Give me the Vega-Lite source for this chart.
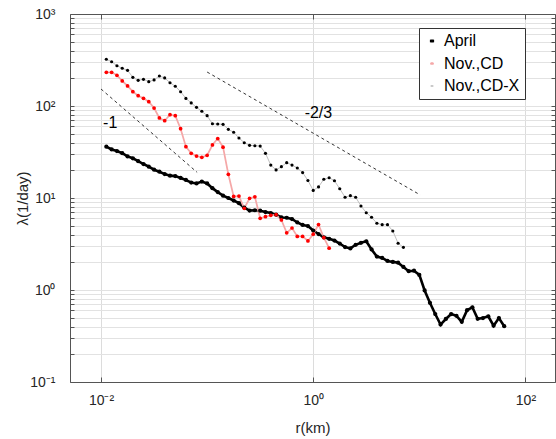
{
  "$schema": "https://vega.github.io/schema/vega-lite/v6.json",
  "width": 485,
  "height": 368,
  "autosize": {"type": "none"},
  "padding": {"left": 70, "top": 14, "right": 1, "bottom": 57},
  "background": "#ffffff",
  "config": {
    "view": {"stroke": null},
    "font": "Liberation Sans",
    "axis": {
      "labelFont": "Liberation Sans",
      "titleFont": "Liberation Sans",
      "labelColor": "#262626",
      "titleColor": "#262626",
      "domainColor": "#555555",
      "tickColor": "#555555",
      "gridColor": "#e2e2e2",
      "labelOverlap": false,
      "labelFlush": false,
      "titleFontWeight": "normal"
    }
  },
  "datasets": {
    "pts": [
      {"s":"April","r":0.01122,"l":36.1},{"s":"April","r":0.012589,"l":33.7},{"s":"April","r":0.014125,"l":32.4},{"s":"April","r":0.015849,"l":30.7},
      {"s":"April","r":0.017783,"l":28.3},{"s":"April","r":0.019953,"l":27.0},{"s":"April","r":0.022387,"l":25.1},{"s":"April","r":0.025119,"l":23.4},
      {"s":"April","r":0.028184,"l":21.9},{"s":"April","r":0.031623,"l":20.3},{"s":"April","r":0.035481,"l":19.3},{"s":"April","r":0.039811,"l":18.2},
      {"s":"April","r":0.044668,"l":17.5},{"s":"April","r":0.050119,"l":17.3},{"s":"April","r":0.056234,"l":16.5},{"s":"April","r":0.063096,"l":15.7},
      {"s":"April","r":0.070795,"l":14.7},{"s":"April","r":0.079433,"l":14.4},{"s":"April","r":0.089125,"l":15.1},{"s":"April","r":0.1,"l":14.4},
      {"s":"April","r":0.1122,"l":12.8},{"s":"April","r":0.12589,"l":11.6},{"s":"April","r":0.14125,"l":10.6},{"s":"April","r":0.15849,"l":10.0},
      {"s":"April","r":0.17783,"l":9.39},{"s":"April","r":0.19953,"l":8.78},{"s":"April","r":0.22387,"l":7.87},{"s":"April","r":0.25119,"l":7.31},
      {"s":"April","r":0.28184,"l":7.36},{"s":"April","r":0.31623,"l":7.28},{"s":"April","r":0.35481,"l":7.04},{"s":"April","r":0.39811,"l":6.87},
      {"s":"April","r":0.44668,"l":6.58},{"s":"April","r":0.50119,"l":6.14},{"s":"April","r":0.56234,"l":6.10},{"s":"April","r":0.63096,"l":5.91},
      {"s":"April","r":0.70795,"l":5.42},{"s":"April","r":0.79433,"l":5.09},{"s":"April","r":0.89125,"l":4.96},{"s":"April","r":1.0,"l":4.43},
      {"s":"April","r":1.122,"l":4.06},{"s":"April","r":1.2589,"l":3.74},{"s":"April","r":1.4125,"l":3.60},{"s":"April","r":1.5849,"l":3.45},
      {"s":"April","r":1.7783,"l":3.20},{"s":"April","r":1.9953,"l":2.93},{"s":"April","r":2.2387,"l":2.83},{"s":"April","r":2.5119,"l":3.10},
      {"s":"April","r":2.8184,"l":3.26},{"s":"April","r":3.1623,"l":3.38},{"s":"April","r":3.5481,"l":2.76},{"s":"April","r":3.9811,"l":2.31},
      {"s":"April","r":4.4668,"l":2.23},{"s":"April","r":5.0119,"l":2.07},{"s":"April","r":5.6234,"l":2.02},{"s":"April","r":6.3096,"l":1.98},
      {"s":"April","r":7.0795,"l":1.78},{"s":"April","r":7.9433,"l":1.60},{"s":"April","r":8.9125,"l":1.62},{"s":"April","r":10,"l":1.46},
      {"s":"April","r":11.22,"l":0.988},{"s":"April","r":12.589,"l":0.726},{"s":"April","r":14.125,"l":0.548},{"s":"April","r":15.849,"l":0.421},
      {"s":"April","r":17.783,"l":0.484},{"s":"April","r":19.953,"l":0.548},{"s":"April","r":22.387,"l":0.524},{"s":"April","r":25.119,"l":0.451},
      {"s":"April","r":28.184,"l":0.603},{"s":"April","r":31.623,"l":0.649},{"s":"April","r":35.481,"l":0.486},{"s":"April","r":39.811,"l":0.496},
      {"s":"April","r":44.668,"l":0.518},{"s":"April","r":50.119,"l":0.409},{"s":"April","r":56.234,"l":0.496},{"s":"April","r":63.096,"l":0.404},

      {"s":"Nov.,CD","r":0.01122,"l":232.5},{"s":"Nov.,CD","r":0.012589,"l":232.5},{"s":"Nov.,CD","r":0.014125,"l":215.7},{"s":"Nov.,CD","r":0.015849,"l":187},
      {"s":"Nov.,CD","r":0.017783,"l":165},{"s":"Nov.,CD","r":0.019953,"l":143},{"s":"Nov.,CD","r":0.022387,"l":129.4},{"s":"Nov.,CD","r":0.025119,"l":121.2},
      {"s":"Nov.,CD","r":0.028184,"l":111.4},{"s":"Nov.,CD","r":0.031623,"l":95.1},{"s":"Nov.,CD","r":0.035481,"l":74.1},{"s":"Nov.,CD","r":0.039811,"l":69.2},
      {"s":"Nov.,CD","r":0.044668,"l":80.4},{"s":"Nov.,CD","r":0.050119,"l":78.4},{"s":"Nov.,CD","r":0.056234,"l":56.7},{"s":"Nov.,CD","r":0.063096,"l":36.1},
      {"s":"Nov.,CD","r":0.070795,"l":30.6},{"s":"Nov.,CD","r":0.079433,"l":28.6},{"s":"Nov.,CD","r":0.089125,"l":27.7},{"s":"Nov.,CD","r":0.1,"l":29.1},
      {"s":"Nov.,CD","r":0.1122,"l":37.7},{"s":"Nov.,CD","r":0.12589,"l":44.3},{"s":"Nov.,CD","r":0.14125,"l":35.7},{"s":"Nov.,CD","r":0.15849,"l":18.1},
      {"s":"Nov.,CD","r":0.17783,"l":10.4},{"s":"Nov.,CD","r":0.19953,"l":10.5},{"s":"Nov.,CD","r":0.22387,"l":7.73},{"s":"Nov.,CD","r":0.25119,"l":9.93},
      {"s":"Nov.,CD","r":0.28184,"l":10.3},{"s":"Nov.,CD","r":0.31623,"l":6.02},{"s":"Nov.,CD","r":0.35481,"l":6.26},{"s":"Nov.,CD","r":0.39811,"l":6.49},
      {"s":"Nov.,CD","r":0.44668,"l":6.58},{"s":"Nov.,CD","r":0.50119,"l":5.77},{"s":"Nov.,CD","r":0.56234,"l":4.18},{"s":"Nov.,CD","r":0.63096,"l":4.72},
      {"s":"Nov.,CD","r":0.70795,"l":3.82},{"s":"Nov.,CD","r":0.79433,"l":3.82},{"s":"Nov.,CD","r":0.89125,"l":3.41},{"s":"Nov.,CD","r":1.0,"l":4.04},
      {"s":"Nov.,CD","r":1.122,"l":5.15},{"s":"Nov.,CD","r":1.2589,"l":3.70},{"s":"Nov.,CD","r":1.4125,"l":2.85},

      {"s":"Nov.,CD-X","r":0.01122,"l":322},{"s":"Nov.,CD-X","r":0.012589,"l":303},{"s":"Nov.,CD-X","r":0.014125,"l":274},{"s":"Nov.,CD-X","r":0.015849,"l":257},
      {"s":"Nov.,CD-X","r":0.017783,"l":244},{"s":"Nov.,CD-X","r":0.019953,"l":205},{"s":"Nov.,CD-X","r":0.022387,"l":190},{"s":"Nov.,CD-X","r":0.025119,"l":195},
      {"s":"Nov.,CD-X","r":0.028184,"l":184},{"s":"Nov.,CD-X","r":0.031623,"l":192},{"s":"Nov.,CD-X","r":0.035481,"l":212},{"s":"Nov.,CD-X","r":0.039811,"l":202},
      {"s":"Nov.,CD-X","r":0.044668,"l":179},{"s":"Nov.,CD-X","r":0.050119,"l":164},{"s":"Nov.,CD-X","r":0.056234,"l":143},{"s":"Nov.,CD-X","r":0.063096,"l":121},
      {"s":"Nov.,CD-X","r":0.070795,"l":108},{"s":"Nov.,CD-X","r":0.079433,"l":96.8},{"s":"Nov.,CD-X","r":0.089125,"l":87.6},{"s":"Nov.,CD-X","r":0.1,"l":78.5},
      {"s":"Nov.,CD-X","r":0.1122,"l":64.1},{"s":"Nov.,CD-X","r":0.12589,"l":63.7},{"s":"Nov.,CD-X","r":0.14125,"l":63.2},{"s":"Nov.,CD-X","r":0.15849,"l":55.8},
      {"s":"Nov.,CD-X","r":0.17783,"l":51.8},{"s":"Nov.,CD-X","r":0.19953,"l":44.9},{"s":"Nov.,CD-X","r":0.22387,"l":39.9},{"s":"Nov.,CD-X","r":0.25119,"l":37.4},
      {"s":"Nov.,CD-X","r":0.28184,"l":37.0},{"s":"Nov.,CD-X","r":0.31623,"l":36.7},{"s":"Nov.,CD-X","r":0.35481,"l":30.6},{"s":"Nov.,CD-X","r":0.39811,"l":22.8},
      {"s":"Nov.,CD-X","r":0.44668,"l":20.2},{"s":"Nov.,CD-X","r":0.50119,"l":21.9},{"s":"Nov.,CD-X","r":0.56234,"l":24.2},{"s":"Nov.,CD-X","r":0.63096,"l":22.8},
      {"s":"Nov.,CD-X","r":0.70795,"l":21.2},{"s":"Nov.,CD-X","r":0.79433,"l":18.9},{"s":"Nov.,CD-X","r":0.89125,"l":15.5},{"s":"Nov.,CD-X","r":1.0,"l":12.1},
      {"s":"Nov.,CD-X","r":1.122,"l":13.2},{"s":"Nov.,CD-X","r":1.2589,"l":16.0},{"s":"Nov.,CD-X","r":1.4125,"l":16.6},{"s":"Nov.,CD-X","r":1.5849,"l":15.4},
      {"s":"Nov.,CD-X","r":1.7783,"l":12.6},{"s":"Nov.,CD-X","r":1.9953,"l":10.2},{"s":"Nov.,CD-X","r":2.2387,"l":10.6},{"s":"Nov.,CD-X","r":2.5119,"l":10.2},
      {"s":"Nov.,CD-X","r":2.8184,"l":8.19},{"s":"Nov.,CD-X","r":3.1623,"l":6.92},{"s":"Nov.,CD-X","r":3.5481,"l":6.17},{"s":"Nov.,CD-X","r":3.9811,"l":5.31},
      {"s":"Nov.,CD-X","r":4.4668,"l":5.13},{"s":"Nov.,CD-X","r":5.0119,"l":5.13},{"s":"Nov.,CD-X","r":5.6234,"l":4.38},{"s":"Nov.,CD-X","r":6.3096,"l":3.22},
      {"s":"Nov.,CD-X","r":7.0795,"l":2.91}
    ],
    "ref": [
      {"g":"a","r":0.01,"l":153},{"g":"a","r":0.0805,"l":19.0},
      {"g":"b","r":0.1,"l":234},{"g":"b","r":10.2,"l":10.8}
    ],
    "notes": [
      {"t":"-1","r":0.01045,"l":65},
      {"t":"-2/3","r":0.83,"l":84}
    ]
  },
  "layer": [
    {
      "data": {"name": "ref"},
      "mark": {"type": "line", "color": "#333333", "strokeWidth": 1, "strokeDash": [3, 3]},
      "encoding": {
        "x": {"field": "r", "type": "quantitative",
          "scale": {"type": "log", "domain": [0.0051, 190], "nice": false},
          "axis": {"orient": "bottom", "values": [0.01, 1, 100],
            "labelExpr": "datum.value == 0.01 ? '10⁻²' : datum.value == 1 ? '10⁰' : '10²'",
            "grid": true, "gridColor": "#dcdcdc", "tickSize": -5, "labelPadding": 16, "labelFontSize": 14,
            "title": "r(km)", "titleFontSize": 15, "titlePadding": 13}},
        "y": {"field": "l", "type": "quantitative",
          "scale": {"type": "log", "domain": [0.1, 1000], "nice": false},
          "axis": {"orient": "left",
            "values": [0.1,0.2,0.3,0.4,0.5,0.6,0.7,0.8,0.9,1,2,3,4,5,6,7,8,9,10,20,30,40,50,60,70,80,90,100,200,300,400,500,600,700,800,900,1000],
            "labelExpr": "datum.value == 0.1 ? '10⁻¹' : datum.value == 1 ? '10⁰' : datum.value == 10 ? '10¹' : datum.value == 100 ? '10²' : datum.value == 1000 ? '10³' : ''",
            "grid": true, "tickSize": -4, "labelPadding": 19, "labelFontSize": 14,
            "title": "λ(1/day)", "titleFontSize": 15, "titlePadding": -1}},
        "detail": {"field": "g"}
      }
    },
    {
      "data": {"name": "pts"},
      "mark": {"type": "line"},
      "encoding": {
        "x": {"field": "r", "type": "quantitative", "axis": null},
        "y": {"field": "l", "type": "quantitative", "axis": null},
        "stroke": {"field": "s", "type": "nominal",
          "scale": {"domain": ["April", "Nov.,CD", "Nov.,CD-X"], "range": ["#000000", "#f5a8a8", "#b8b8b8"]},
          "legend": {"title": null, "orient": "none", "legendX": 349, "legendY": 14,
            "symbolType": "M-1,0H1M-0.14,-0.14H0.14V0.14H-0.14Z", "symbolSize": 930,
            "symbolStrokeWidth": 1, "labelFontSize": 16, "labelFont": "Liberation Sans", "labelColor": "#000000",
            "padding": 5, "rowPadding": 6.5, "labelOffset": 4,
            "strokeColor": "#333333", "fillColor": "#ffffff",
            "encode": {"symbols": {"update": {
              "stroke": {"signal": "datum.value === 'April' ? '#000000' : datum.value === 'Nov.,CD' ? '#f5a8a8' : '#b8b8b8'"},
              "fill": {"signal": "datum.value === 'Nov.,CD' ? '#ff0000' : '#000000'"},
              "strokeWidth": {"signal": "datum.value === 'April' ? 2.5 : 1"},
              "opacity": {"value": 1}
            }}}}},
        "strokeWidth": {"field": "s", "type": "nominal",
          "scale": {"domain": ["April", "Nov.,CD", "Nov.,CD-X"], "range": [2.6, 0.9, 0.9]}, "legend": null}
      }
    },
    {
      "data": {"name": "pts"},
      "mark": {"type": "circle", "opacity": 1},
      "encoding": {
        "x": {"field": "r", "type": "quantitative", "axis": null},
        "y": {"field": "l", "type": "quantitative", "axis": null},
        "fill": {"field": "s", "type": "nominal",
          "scale": {"domain": ["April", "Nov.,CD", "Nov.,CD-X"], "range": ["#000000", "#ff0000", "#000000"]}, "legend": null},
        "size": {"field": "s", "type": "nominal",
          "scale": {"domain": ["April", "Nov.,CD", "Nov.,CD-X"], "range": [18, 10, 8]}, "legend": null}
      }
    },
    {
      "data": {"name": "notes"},
      "mark": {"type": "text", "align": "left", "baseline": "middle", "fontSize": 16, "font": "Liberation Sans", "color": "#000000"},
      "encoding": {
        "x": {"field": "r", "type": "quantitative",
          "axis": {"orient": "top", "values": [0.01, 1, 100], "labels": false, "grid": false, "tickSize": -5, "title": null}},
        "y": {"field": "l", "type": "quantitative",
          "axis": {"orient": "right",
            "values": [0.1,0.2,0.3,0.4,0.5,0.6,0.7,0.8,0.9,1,2,3,4,5,6,7,8,9,10,20,30,40,50,60,70,80,90,100,200,300,400,500,600,700,800,900,1000],
            "labels": false, "grid": false, "tickSize": -4, "title": null}},
        "text": {"field": "t"}
      }
    }
  ]
}
